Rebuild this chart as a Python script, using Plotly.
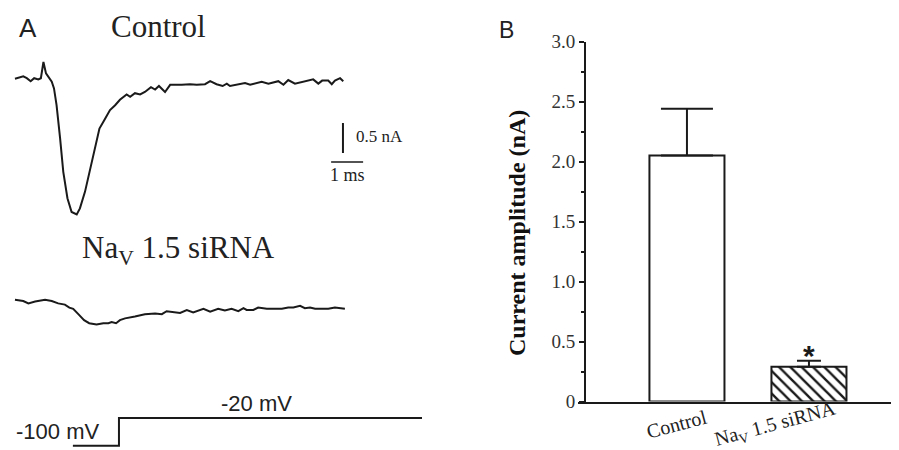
import plotly.graph_objects as go

# The page body has an 8 px margin, so the figure is sized to fill the rest of the window.
OFF = 8
W, H = 899 - OFF, 450 - OFF

# ---------------- Panel A data ----------------
# Control trace: time (ms) and current (nA)
ctrl_t = [0.03, 0.13, 0.29, 0.40, 0.52, 0.63, 0.76, 0.84, 0.92, 1.00, 1.10, 1.18, 1.25, 1.33,
          1.44, 1.54, 1.67, 1.80, 1.96, 2.06, 2.22, 2.43, 2.67, 2.82, 3.00, 3.16, 3.31, 3.52,
          3.63, 3.78, 3.94, 4.09, 4.28, 4.41, 4.53, 4.72, 4.88, 5.24, 5.50, 5.71, 5.97, 6.13,
          6.33, 6.52, 6.65, 6.75, 7.01, 7.22, 7.38, 7.56, 7.74, 7.95, 8.05, 8.26, 8.42, 8.57,
          8.78, 8.99, 9.20, 9.35, 9.51, 9.63, 9.82, 9.93, 10.03, 10.19, 10.29]
ctrl_i = [0.02, 0.04, 0.06, 0.03, -0.02, 0.03, 0.01, 0.03, 0.30, 0.11, 0.03, -0.03, -0.14, -0.42,
          -0.97, -1.53, -1.97, -2.20, -2.24, -2.14, -1.86, -1.36, -0.81, -0.67, -0.50, -0.42, -0.33, -0.24,
          -0.28, -0.22, -0.24, -0.20, -0.12, -0.16, -0.10, -0.20, -0.08, -0.08, -0.07, -0.08, -0.07, -0.02,
          -0.07, -0.10, -0.06, -0.10, -0.07, -0.05, -0.08, -0.06, -0.03, -0.06, -0.05, -0.02, -0.08, 0.00,
          -0.06, -0.03, -0.01, 0.01, -0.06, -0.01, -0.01, -0.07, -0.01, 0.03, -0.02]

# Nav1.5 siRNA trace
si_t = [0.03, 0.19, 0.29, 0.45, 0.66, 0.97, 1.18, 1.38, 1.59, 1.73, 1.85, 2.01, 2.19, 2.35, 2.58,
        2.79, 2.95, 3.05, 3.19, 3.31, 3.47, 3.78, 4.09, 4.41, 4.62, 4.77, 4.98, 5.19, 5.40, 5.60,
        5.92, 6.13, 6.38, 6.59, 6.80, 7.01, 7.17, 7.27, 7.48, 7.63, 7.90, 8.10, 8.37, 8.57, 8.73,
        8.94, 9.09, 9.25, 9.41, 9.62, 9.82, 10.03, 10.19, 10.34]
si_i = [0.02, 0.00, 0.00, -0.04, -0.01, 0.02, 0.00, -0.04, -0.06, -0.11, -0.13, -0.22, -0.32, -0.37, -0.39,
        -0.37, -0.37, -0.35, -0.37, -0.32, -0.29, -0.26, -0.22, -0.21, -0.22, -0.17, -0.19, -0.20, -0.15, -0.19,
        -0.13, -0.18, -0.13, -0.16, -0.13, -0.17, -0.12, -0.15, -0.15, -0.11, -0.13, -0.13, -0.13, -0.11, -0.11,
        -0.08, -0.12, -0.11, -0.13, -0.13, -0.13, -0.11, -0.12, -0.13]

# Voltage protocol (ms, mV)
prot_t = [1.84, 3.28, 3.28, 12.75]
prot_v = [-100, -100, -20, -20]

# Scale bars
scale_i = 0.5   # nA
scale_t = 1.0   # ms

# ---------------- Panel B data ----------------
groups = ["Control", "Na<sub>V</sub> 1.5 siRNA"]
means = [2.05, 0.29]
sems = [0.39, 0.05]
ytick_vals = [0, 0.5, 1.0, 1.5, 2.0, 2.5, 3.0]
ytick_text = ["0", "0.5", "1.0", "1.5", "2.0", "2.5", "3.0"]

# ---------------- helpers (window pixel -> paper fraction) ----------------
def px(x):
    return (x - OFF) / W

def py(y):
    return 1 - (y - OFF) / H

SI_OFFSET = -3.683  # vertical display offset of the siRNA trace (nA)
INK = "#1a1a1a"
SERIF = "Liberation Serif, Times New Roman, serif"
SANS = "Liberation Sans, Arial, sans-serif"

fig = go.Figure()

# Panel A traces
fig.add_trace(go.Scatter(x=ctrl_t, y=ctrl_i, mode="lines", line=dict(color=INK, width=2),
                         xaxis="x2", yaxis="y2", showlegend=False, hoverinfo="skip"))
fig.add_trace(go.Scatter(x=si_t, y=[v + SI_OFFSET for v in si_i], mode="lines",
                         line=dict(color=INK, width=2), xaxis="x2", yaxis="y2",
                         showlegend=False, hoverinfo="skip"))
fig.add_trace(go.Scatter(x=prot_t, y=prot_v, mode="lines", line=dict(color=INK, width=2),
                         xaxis="x2", yaxis="y3", showlegend=False, hoverinfo="skip"))

# scale bars
sb_x, sb_y = 10.28, -0.717
fig.add_trace(go.Scatter(x=[sb_x, sb_x], y=[sb_y, sb_y - scale_i], mode="lines",
                         line=dict(color=INK, width=2), xaxis="x2", yaxis="y2",
                         showlegend=False, hoverinfo="skip"))
hb_x, hb_y = 9.91, -1.367
fig.add_trace(go.Scatter(x=[hb_x, hb_x + scale_t], y=[hb_y, hb_y], mode="lines",
                         line=dict(color=INK, width=1.6), xaxis="x2", yaxis="y2",
                         showlegend=False, hoverinfo="skip"))

# Panel B bars
bar_w = 0.615
cap_w = [26, 12]
patterns = ["", "\\"]
for k in range(len(groups)):
    fig.add_trace(go.Bar(
        x=[k], y=[means[k]], width=bar_w, xaxis="x", yaxis="y",
        marker=dict(color="white", line=dict(color=INK, width=2),
                    pattern=dict(shape=patterns[k], fgcolor=INK, bgcolor="white",
                                 size=8, solidity=0.3)),
        error_y=dict(type="data", array=[sems[k]], arrayminus=[0], symmetric=False,
                     color=INK, thickness=2, width=cap_w[k]),
        showlegend=False, hoverinfo="skip"))

annotations = [
    dict(text="A", x=px(28), y=py(28), font=dict(family=SANS, size=26, color="#222")),
    dict(text="Control", x=px(158), y=py(27), font=dict(family=SERIF, size=31, color="#222")),
    dict(text="Na<sub>V</sub> 1.5 siRNA", x=px(178), y=py(250), font=dict(family=SERIF, size=31, color="#222")),
    dict(text="0.5 nA", x=px(354), y=py(136), xanchor="left", font=dict(family=SERIF, size=17, color="#222")),
    dict(text="1 ms", x=px(347), y=py(175), font=dict(family=SERIF, size=18, color="#222")),
    dict(text="-20 mV", x=px(256), y=py(403), font=dict(family=SANS, size=22, color="#222")),
    dict(text="-100 mV", x=px(57), y=py(431), font=dict(family=SANS, size=22, color="#222")),
    dict(text="B", x=px(506), y=py(30), font=dict(family=SANS, size=23, color="#222")),
    dict(text="<b>Current amplitude (nA)</b>", x=px(517), y=py(233), textangle=-90,
         font=dict(family=SERIF, size=24, color="#111")),
    dict(text="<b>*</b>", x=1, xref="x", y=py(355), font=dict(family=SANS, size=30, color=INK)),
    dict(text=groups[0], x=0, xref="x", xshift=-10, y=py(424), textangle=-15,
         font=dict(family=SERIF, size=20, color="#222")),
    dict(text=groups[1], x=1, xref="x", xshift=-33, y=py(424), textangle=-15,
         font=dict(family=SERIF, size=20, color="#222")),
]
for a in annotations:
    a.setdefault("xref", "paper")
    a.setdefault("yref", "paper")
    a.setdefault("showarrow", False)
    a.setdefault("xanchor", "center")
    a.setdefault("yanchor", "middle")

fig.update_layout(
    template="none",
    width=W, height=H, margin=dict(l=0, r=0, t=0, b=0, pad=0, autoexpand=False),
    paper_bgcolor="white", plot_bgcolor="white",
    barmode="overlay", showlegend=False,
    xaxis=dict(domain=[px(578), px(899)], range=[-0.893, 1.738], anchor="y", automargin=False,
               showline=True, linecolor=INK, linewidth=2, showticklabels=False,
               ticks="", showgrid=False, zeroline=False),
    yaxis=dict(domain=[py(401.5), py(41.5)], range=[0, 3], anchor="free", position=px(585),
               automargin=False,
               showline=True, linecolor=INK, linewidth=2, ticks="outside", ticklen=5,
               tickwidth=2, tickcolor=INK, tickvals=ytick_vals, ticktext=ytick_text,
               tickfont=dict(family=SERIF, size=19, color="#333"),
               minor=dict(ticks="outside", ticklen=3, tickwidth=1.5, tickcolor=INK, dtick=0.25),
               showgrid=False, zeroline=False),
    xaxis2=dict(domain=[px(8), px(430)], range=[-0.1875, 13.0], anchor="y2", visible=False,
                automargin=False),
    yaxis2=dict(domain=[py(450), py(8)], range=[-6.1667, 1.2], anchor="x2", visible=False,
                automargin=False),
    yaxis3=dict(domain=[py(450), py(8)], range=[-112.4, 1164.1], anchor="x2", overlaying="y2",
                visible=False, automargin=False),
    annotations=annotations,
)

fig.write_html("out.html")
